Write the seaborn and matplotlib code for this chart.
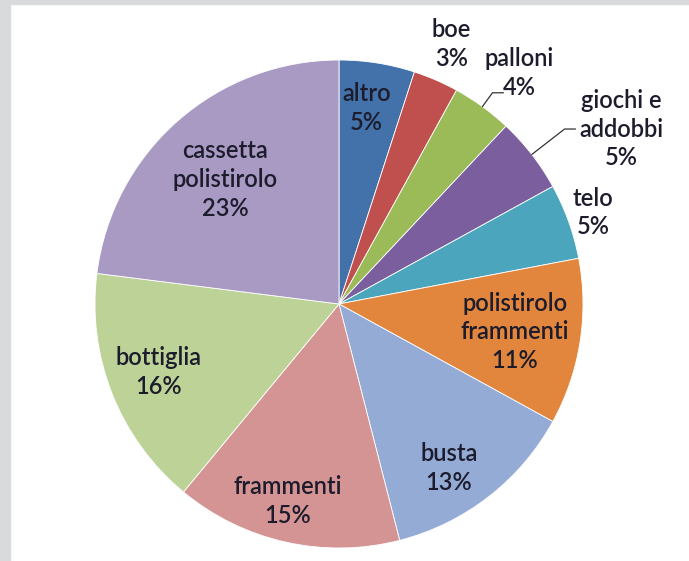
import matplotlib
matplotlib.use("Agg")
import matplotlib.pyplot as plt
from matplotlib.patches import Rectangle
import seaborn as sns
import numpy as np

categorie = ['altro', 'boe', 'palloni', 'giochi e\naddobbi', 'telo',
             'polistirolo\nframmenti', 'busta', 'frammenti', 'bottiglia',
             'cassetta\npolistirolo']
percentuali = [5, 3, 4, 5, 5, 11, 13, 15, 16, 23]

colori = ['#4371a9', '#c0504d', '#9bbb59', '#7b5e9d', '#4ba5bd',
          '#e2863d', '#94abd6', '#d59494', '#bdd297', '#a89ac3']

# distanza delle etichette dal centro (raggio = 1), spostamento angolare (gradi, orario)
dist_etichette = [0.81, 1.16, 1.2, 1.36, 1.107, 0.73, 0.81, 0.835, 0.79, 0.69]
sposta_angolo = [-1, 0, 2, 6, 0, 0, 4, 2, 1, -1]
linee_guida = [None, None, 1.07, 1.17, None, None, None, None, None, None]

sns.set_style('white')
plt.rcParams['font.family'] = ['Lato', 'DejaVu Sans']

W, H = 689, 561
fig = plt.figure(figsize=(W / 100, H / 100), dpi=100)
fig.patch.set_facecolor('white')

# cornice grigia
fig.patches.append(Rectangle((0, 0), 10 / W, 1, transform=fig.transFigure,
                             color='#d9dadc', zorder=0))
fig.patches.append(Rectangle((0, 1 - 4 / H), 1, 4 / H, transform=fig.transFigure,
                             color='#d9dadc', zorder=0))

R = 244
cx, cy = 339, 304
ax = fig.add_axes([(cx - R) / W, (H - cy - R) / H, 2 * R / W, 2 * R / H])

wedges, _ = ax.pie(percentuali, colors=colori, startangle=90, counterclock=False,
                   wedgeprops=dict(edgecolor='white', linewidth=0.6))
ax.set_xlim(-1, 1)
ax.set_ylim(-1, 1)
ax.axis('off')

for w, lab, p, d, da, lg in zip(wedges, categorie, percentuali, dist_etichette,
                                sposta_angolo, linee_guida):
    mid = (w.theta1 + w.theta2) / 2
    ang = np.deg2rad(mid - da)
    x, y = d * np.cos(ang), d * np.sin(ang)
    ax.text(x, y, f'{lab}\n{p}%', ha='center', va='center', fontsize=17,
            fontweight='semibold', color='#1c1c2c', linespacing=1.3, clip_on=False)
    if lg is not None:
        a0 = np.deg2rad(mid)
        x0, y0 = np.cos(a0), np.sin(a0)
        x1, y1 = lg * np.cos(a0), lg * np.sin(a0)
        ax.plot([x0, x1, x1 + 0.045], [y0, y1, y1], color='#333333',
                linewidth=0.9, clip_on=False)

fig.savefig('out.png', dpi=100)
